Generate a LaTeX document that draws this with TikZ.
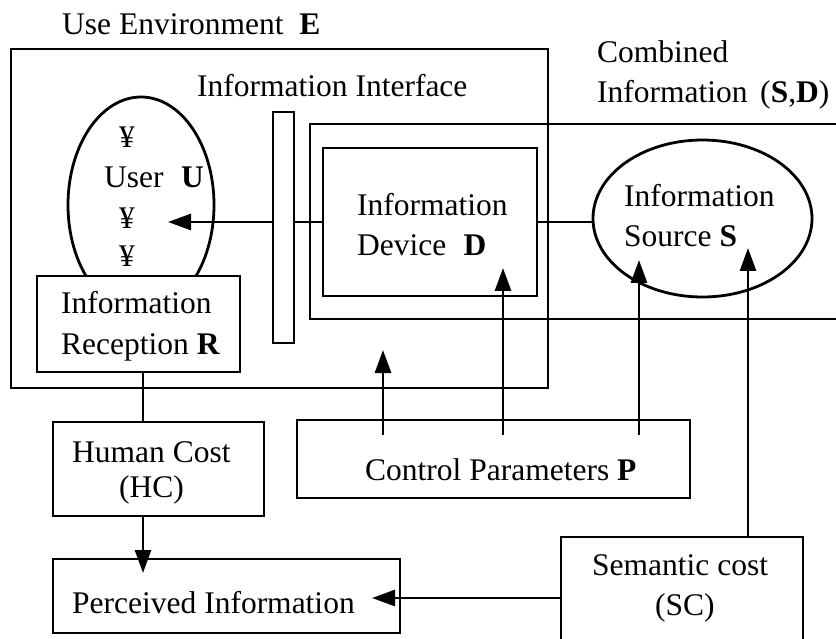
\documentclass[tikz,border=0pt]{standalone}
\usepackage{fontspec}
\setmainfont{Liberation Serif}
\usetikzlibrary{arrows.meta,shapes.geometric}
\begin{document}
\begin{tikzpicture}[x=1pt,y=-1pt,
  ln/.style={line width=2.8pt},
  box/.style={draw,line width=2.8pt,inner sep=0pt,outer sep=0pt},
  wbox/.style={box,fill=white},
  txt/.style={inner sep=0pt,anchor=base west,font=\fontsize{31.5}{40}\selectfont},
  ctxt/.style={txt,anchor=base},
  arr/.style={line width=2.8pt,-{Triangle[length=23pt,width=16pt]}}]
\useasboundingbox (0,0) rectangle (836,639);
\clip (0,0) rectangle (836,639);
% boxes and shapes
\node[box,minimum width=537pt,minimum height=339pt] (E) at (279.5,218.5) {};
\node[box,ellipse,minimum width=146pt,minimum height=216pt] (U) at (141,205) {};
\node[wbox,minimum width=203pt,minimum height=96pt] (rec) at (138.5,324) {};
\node[box,minimum width=550pt,minimum height=195pt] (comb) at (585,221.5) {};
\node[box,minimum width=214pt,minimum height=148pt] (dev) at (430,222) {};
\node[box,ellipse,minimum width=219pt,minimum height=157pt] (S) at (702.5,218.5) {};
\node[box,minimum width=211pt,minimum height=94pt] (hc) at (158.5,469) {};
\node[box,minimum width=347pt,minimum height=74pt] (per) at (226.5,596) {};
\node[wbox,minimum width=393pt,minimum height=78pt] (ctrl) at (493.5,459) {};
\node[wbox,minimum width=242pt,minimum height=123pt] (sc) at (682,598.5) {};
\node[wbox,minimum width=21pt,minimum height=231pt] (bar) at (283.5,227.5) {};
% named free ends
\coordinate (uTip) at (168,222);
\coordinate (rh) at (143,0);
\coordinate (pTip) at (143,573);
\coordinate (piTip) at (372,598);
\coordinate (sTip) at (748,248);
\coordinate (c1) at (383,435);
\coordinate (c2) at (503,435);
\coordinate (c3) at (639,435);
\coordinate (eTip) at (383,350);
\coordinate (dTip) at (503,268);
\coordinate (srcTip) at (639,260);
% connectors
\draw[ln] (dev.west) -- (bar.east |- dev.west);
\draw[arr] (bar.west |- dev.west) -- (uTip);
\draw[ln] (dev.east) -- (S.west |- dev.east);
\draw[ln] (rec.south -| rh) -- (hc.north -| rh);
\draw[arr] (hc.south -| rh) -- (pTip);
\draw[arr] (sc.west |- piTip) -- (piTip);
\draw[arr] (sc.north -| sTip) -- (sTip);
\draw[arr] (c1) -- (eTip);
\draw[arr] (c2) -- (dTip);
\draw[arr] (c3) -- (srcTip);
% texts
\node[txt] (tE) at (62,35) {Use Environment\hspace{0.5em}\textbf{E}};
\node[txt] (tI) at (197,97) {Information Interface};
\node[txt] (tC1) at (597,63) {Combined};
\node[txt] (tC2) at (597,103) {Information\hspace{0.4em}(\textbf{S},\textbf{D})};
\node[txt] (tD1) at (357,216) {Information};
\node[txt] (tD2) at (357,256) {Device\hspace{0.55em}\textbf{D}};
\node[txt] (tS1) at (624,207) {Information};
\node[txt] (tS2) at (624,247) {Source \textbf{S}};
\node[ctxt] (y1) at (127,148) {¥};
\node[txt] (tU) at (104,188) {User\hspace{0.55em}\textbf{U}};
\node[ctxt] (y2) at (127,229) {¥};
\node[ctxt] (y3) at (127,267) {¥};
\node[txt] (tR1) at (61,314) {Information};
\node[txt] (tR2) at (61,355) {Reception \textbf{R}};
\node[txt] (tH1) at (72,462) {Human Cost};
\node[txt] (tH2) at (119,497) {(HC)};
\node[txt] (tP) at (72,613) {Perceived Information};
\node[txt] (tCP) at (365,480) {Control Parameters \textbf{P}};
\node[txt] (tSC1) at (592,575) {Semantic cost};
\node[txt] (tSC2) at (655,615) {(SC)};
\end{tikzpicture}
\end{document}
